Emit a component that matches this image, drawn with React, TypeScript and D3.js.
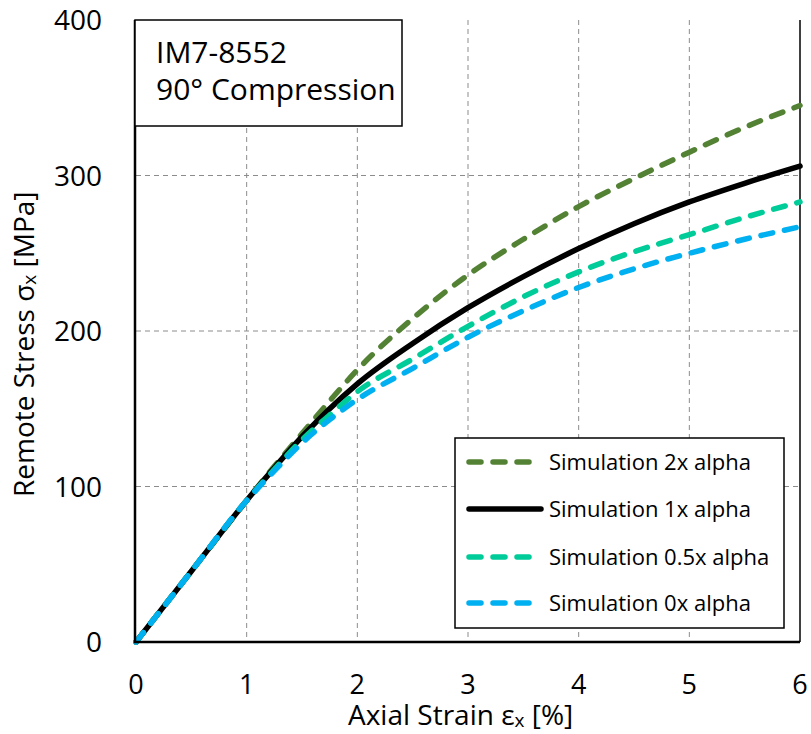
import React from "react";
import * as d3 from "d3";

const strain = [0, 0.5, 1, 1.25, 1.5, 1.75, 2, 2.5, 3, 3.5, 4, 4.5, 5, 5.5, 6];
const alpha2x = [0, 45.5, 91, 113, 134, 155, 175, 208, 236, 259, 280, 298, 315, 331, 345];
const alpha1x = [0, 45.5, 91, 112, 132, 150, 166, 192, 215, 235, 253, 269, 283, 295, 306];
const alpha05x = [0, 45.5, 91, 111, 130, 146, 161, 182, 203, 222, 238, 251, 262, 273, 283];
const alpha0x = [0, 45.5, 91, 110, 128, 143, 156, 176, 196, 213, 228, 240, 250, 259, 267];

const xTicks = [0, 1, 2, 3, 4, 5, 6];
const yTicks = [0, 100, 200, 300, 400];

const seriesNames = [
  "Simulation 2x alpha",
  "Simulation 1x alpha",
  "Simulation 0.5x alpha",
  "Simulation 0x alpha",
];
const seriesValues = [alpha2x, alpha1x, alpha05x, alpha0x];
const seriesColors = ["#548235", "#000000", "#00CC99", "#00B0F0"];
const seriesDashed = [true, false, true, true];

const titleLines = ["IM7-8552", "90° Compression"];

const FONT = "'Open Sans', 'Liberation Sans', sans-serif";

export default function App() {
  const W = 811;
  const H = 734;
  const x0 = 136, x1 = 800, yTop = 20, yBot = 642;
  const x = d3.scaleLinear().domain([0, 6]).range([x0, x1]);
  const y = d3.scaleLinear().domain([0, 400]).range([yBot, yTop]);

  const line = d3
    .line<number>()
    .x((_, i) => x(strain[i]))
    .y((v) => y(v))
    .curve(d3.curveMonotoneX);

  const legend = { x: 455, y: 438, w: 329, h: 190 };
  const legendRows = [462, 509, 557, 603];

  return (
    <svg
      width={W}
      height={H}
      style={{ position: "absolute", left: 0, top: 0, background: "#fff" }}
      fontFamily={FONT}
    >
      <rect x={0} y={0} width={W} height={H} fill="#fff" />
      {/* grid */}
      {xTicks.slice(1, -1).map((t) => (
        <line
          key={"gx" + t}
          x1={x(t)}
          x2={x(t)}
          y1={yTop}
          y2={yBot}
          stroke="#8c8c8c"
          strokeWidth={1}
          strokeDasharray="5 4"
        />
      ))}
      {yTicks.slice(1, -1).map((t) => (
        <line
          key={"gy" + t}
          x1={x0}
          x2={x1}
          y1={y(t)}
          y2={y(t)}
          stroke="#8c8c8c"
          strokeWidth={1}
          strokeDasharray="5 4"
        />
      ))}
      {/* right axis */}
      <line x1={x1} x2={x1} y1={yTop} y2={yBot} stroke="#000" strokeWidth={1.5} />

      {/* series */}
      {seriesValues.map((vals, i) => (
        <path
          key={"s" + i}
          d={line(vals) || ""}
          fill="none"
          stroke={seriesColors[i]}
          strokeWidth={5.5}
          strokeLinecap="round"
          strokeLinejoin="round"
          strokeDasharray={seriesDashed[i] ? "12 12" : undefined}
        />
      ))}

      {/* axes */}
      <line x1={x0 - 1} x2={x0 - 1} y1={yTop} y2={yBot + 1} stroke="#000" strokeWidth={2.5} />
      <line x1={x0 - 2} x2={x1} y1={yBot} y2={yBot} stroke="#000" strokeWidth={2.5} />

      {/* y tick labels */}
      {yTicks.map((t) => (
        <text key={"yt" + t} x={102} y={y(t) + 10} textAnchor="end" fontSize={28} fill="#000">
          {t}
        </text>
      ))}
      {/* x tick labels */}
      {xTicks.map((t) => (
        <text key={"xt" + t} x={x(t)} y={694} textAnchor="middle" fontSize={27} fill="#000">
          {t}
        </text>
      ))}

      {/* axis titles */}
      <text x={348} y={725} textAnchor="start" fontSize={28} fill="#000">
        Axial Strain ε
        <tspan fontSize={19} dy={2}>x</tspan>
        <tspan dy={-2}> [%]</tspan>
      </text>
      <text
        transform={`translate(34, 497) rotate(-90)`}
        textAnchor="start"
        fontSize={28}
        fill="#000"
      >
        Remote Stress σ
        <tspan fontSize={19} dy={2}>x</tspan>
        <tspan dy={-2}> [MPa]</tspan>
      </text>

      {/* title box */}
      <rect x={135} y={20} width={267} height={106} fill="#fff" stroke="#000" strokeWidth={1.5} />
      {titleLines.map((t, i) => (
        <text key={"tl" + i} x={156} y={63 + i * 37} fontSize={30} fill="#000">
          {t}
        </text>
      ))}

      {/* legend */}
      <rect
        x={legend.x}
        y={legend.y}
        width={legend.w}
        height={legend.h}
        fill="#fff"
        stroke="#000"
        strokeWidth={1.5}
      />
      {seriesNames.map((name, i) => (
        <g key={"lg" + i}>
          <line
            x1={469}
            x2={541}
            y1={legendRows[i]}
            y2={legendRows[i]}
            stroke={seriesColors[i]}
            strokeWidth={5.5}
            strokeLinecap="round"
            strokeDasharray={seriesDashed[i] ? "12 12" : undefined}
          />
          <text x={549} y={legendRows[i] + 8} fontSize={22} fill="#000">
            {name}
          </text>
        </g>
      ))}
    </svg>
  );
}
